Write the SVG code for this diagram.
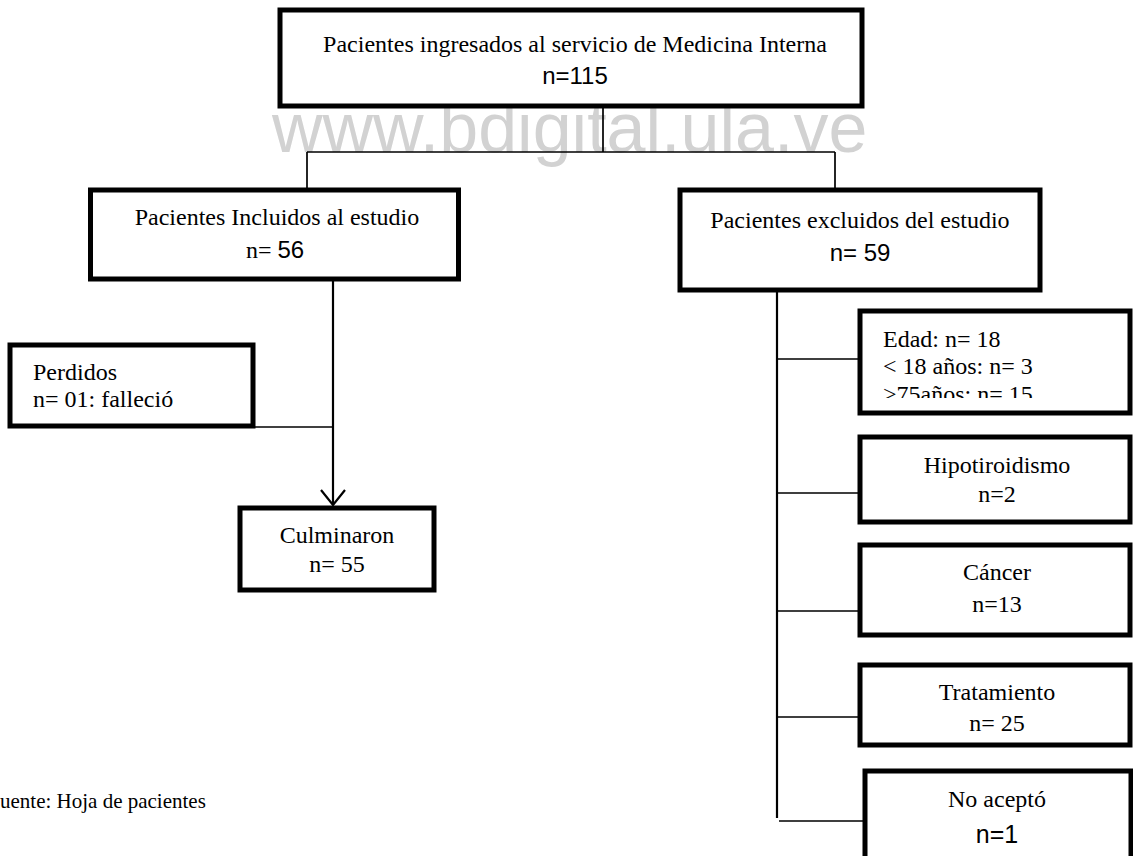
<svg xmlns="http://www.w3.org/2000/svg" width="1133" height="856" viewBox="0 0 1133 856">
  <defs>
    <style>
      .box { fill: #ffffff; stroke: #000000; stroke-width: 5; }
      .ser { font-family: "Liberation Serif", "Times New Roman", serif; font-size: 24px; fill: #000000; }
      .san { font-family: "Liberation Sans", Arial, sans-serif; font-size: 24px; fill: #000000; }
      .mid { text-anchor: middle; }
      .ln { fill: none; stroke: #000000; stroke-width: 1.7; }
      .lnb { fill: none; stroke: #000000; stroke-width: 2.2; }
      .wm { font-family: "Liberation Sans", Arial, sans-serif; font-size: 70px; fill: #d2d2d2; }
    </style>
    <clipPath id="edadClip">
      <rect x="862" y="313" width="266" height="85"/>
    </clipPath>
  </defs>
  <rect x="0" y="0" width="1133" height="856" fill="#ffffff"/>

  <text class="wm" x="272" y="152">www.bdigital.ula.ve</text>

  <g id="connectors">
    <path class="ln" d="M603 108 V152 M307 152 H835 M307 152 V189 M835 152 V189"/>
    <path class="lnb" d="M333 281 V505"/>
    <path class="ln" d="M253 427 H333"/>
    <path class="lnb" d="M321 490 L333 505 L345 490"/>
    <path class="lnb" d="M777 290 V818"/>
    <path class="ln" d="M777 359 H860 M777 493 H860 M777 611 H860 M777 717 H860 M779 821 H865"/>
  </g>

  <g id="top">
    <rect class="box" x="280" y="10" width="582" height="96"/>
    <text class="ser mid" x="575" y="52">Pacientes ingresados al servicio de Medicina Interna</text>
    <text class="san mid" x="575" y="84">n=115</text>
  </g>

  <g id="incluidos">
    <rect class="box" x="90.5" y="190" width="368" height="89"/>
    <text class="ser mid" x="277" y="225">Pacientes Incluidos al estudio</text>
    <text class="mid" x="275" y="258"><tspan class="ser">n= </tspan><tspan class="san">56</tspan></text>
  </g>

  <g id="excluidos">
    <rect class="box" x="680" y="190" width="360" height="100"/>
    <text class="ser mid" x="860" y="228">Pacientes excluidos del estudio</text>
    <text class="san mid" x="860" y="261">n= 59</text>
  </g>

  <g id="perdidos">
    <rect class="box" x="10" y="345" width="243" height="81"/>
    <text class="ser" x="33" y="380">Perdidos</text>
    <text class="ser" x="33" y="407">n= 01: falleció</text>
  </g>

  <g id="culminaron">
    <rect class="box" x="240" y="508" width="194" height="82"/>
    <text class="ser mid" x="337" y="543">Culminaron</text>
    <text class="ser mid" x="337" y="572">n= 55</text>
  </g>

  <g id="edad">
    <rect class="box" x="860" y="311" width="270" height="102"/>
    <g clip-path="url(#edadClip)">
      <text class="ser" x="883" y="347">Edad: n= 18</text>
      <text class="ser" x="883" y="374">&lt; 18 años: n= 3</text>
      <text class="ser" x="883" y="402">&gt;75años: n= 15</text>
    </g>
  </g>

  <g id="hipotiroidismo">
    <rect class="box" x="860" y="437" width="270" height="85"/>
    <text class="ser mid" x="997" y="473">Hipotiroidismo</text>
    <text class="ser mid" x="997" y="502">n=2</text>
  </g>

  <g id="cancer">
    <rect class="box" x="860" y="545" width="270" height="90"/>
    <text class="ser mid" x="997" y="580">Cáncer</text>
    <text class="ser mid" x="997" y="612">n=13</text>
  </g>

  <g id="tratamiento">
    <rect class="box" x="860" y="665" width="270" height="80"/>
    <text class="ser mid" x="997" y="700">Tratamiento</text>
    <text class="ser mid" x="997" y="731">n= 25</text>
  </g>

  <g id="noacepto">
    <rect class="box" x="865" y="771" width="266" height="100"/>
    <text class="ser mid" x="997" y="807">No aceptó</text>
    <text class="san mid" x="997" y="843" style="font-size:25px">n=1</text>
  </g>

  <text class="ser" x="0" y="808" style="font-size:21px">uente: Hoja de pacientes</text>
</svg>
